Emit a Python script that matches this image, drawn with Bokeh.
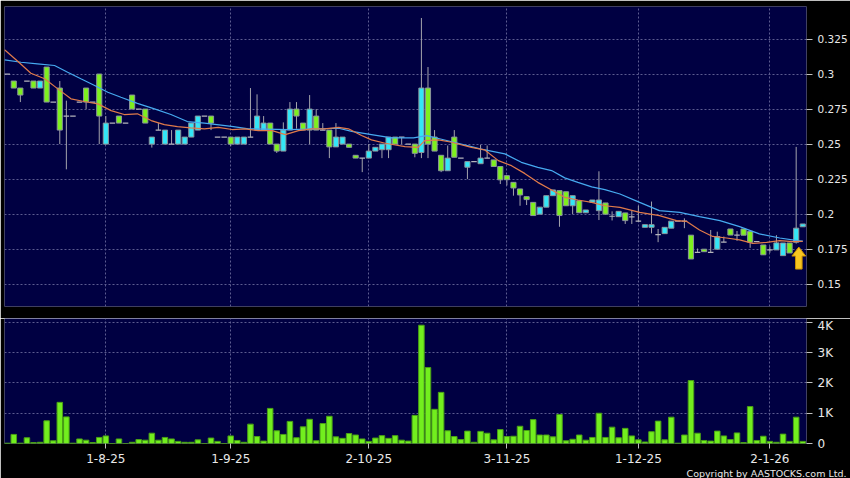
from bokeh.plotting import figure
from bokeh.layouts import column
from bokeh.models import Range1d, FixedTicker, Title
from bokeh.embed import file_html
from bokeh.resources import INLINE

# ---------------- data (trading-day index -1 .. 120) ----------------
day_idx = list(range(-1, 121))

opens = [
    0.300,
    0.295, 0.290, 0.295, 0.295, 0.290, 0.305, 0.280, 0.290, 0.270, 0.270,
    0.280, 0.290, 0.280, 0.300, 0.250, 0.265, 0.270, 0.265, 0.285, 0.275,
    0.275, 0.250, 0.260, 0.250, 0.250, 0.250, 0.250, 0.255, 0.260, 0.270,
    0.270, 0.255, 0.255, 0.255, 0.250, 0.250, 0.255, 0.260, 0.260, 0.265,
    0.250, 0.245, 0.260, 0.275, 0.265, 0.260, 0.270, 0.260, 0.260, 0.248,
    0.250, 0.250, 0.242, 0.240, 0.240, 0.245, 0.246, 0.246, 0.255, 0.255,
    0.250, 0.250, 0.244, 0.290, 0.255, 0.242, 0.231, 0.255, 0.240, 0.2335,
    0.2375, 0.236, 0.240, 0.2387, 0.234, 0.2275, 0.2227, 0.218, 0.2125, 0.2084,
    0.200, 0.205, 0.2132, 0.2168, 0.216, 0.206, 0.2096, 0.201, 0.2085, 0.2025,
    0.208, 0.1985, 0.1982, 0.2009, 0.198, 0.195, 0.1906, 0.1906, 0.1854, 0.1861,
    0.190, 0.195, 0.195, 0.185, 0.1727, 0.175, 0.1727, 0.175, 0.180, 0.1894,
    0.185, 0.1894, 0.1877, 0.1805, 0.178, 0.1745, 0.1745, 0.1704, 0.1794, 0.180,
    0.191,
]
highs = [
    0.300,
    0.295, 0.290, 0.295, 0.295, 0.295, 0.305, 0.280, 0.295, 0.281, 0.270,
    0.280, 0.290, 0.280, 0.300, 0.270, 0.265, 0.270, 0.265, 0.285, 0.275,
    0.275, 0.255, 0.265, 0.260, 0.260, 0.260, 0.255, 0.265, 0.270, 0.270,
    0.270, 0.255, 0.255, 0.255, 0.255, 0.255, 0.290, 0.2855, 0.270, 0.265,
    0.250, 0.2655, 0.280, 0.280, 0.265, 0.285, 0.275, 0.265, 0.260, 0.265,
    0.255, 0.250, 0.242, 0.240, 0.250, 0.2477, 0.250, 0.255, 0.255, 0.255,
    0.250, 0.250, 0.340, 0.305, 0.260, 0.242, 0.249, 0.260, 0.240, 0.2375,
    0.2375, 0.2495, 0.249, 0.2387, 0.234, 0.2275, 0.2227, 0.218, 0.2125, 0.2084,
    0.205, 0.2132, 0.2173, 0.2168, 0.216, 0.2132, 0.2096, 0.203, 0.2101, 0.2306,
    0.208, 0.202, 0.202, 0.2009, 0.2025, 0.206, 0.1925, 0.209, 0.1894, 0.1906,
    0.195, 0.195, 0.197, 0.185, 0.1755, 0.175, 0.1887, 0.1875, 0.184, 0.1894,
    0.188, 0.1894, 0.1877, 0.1805, 0.178, 0.177, 0.185, 0.1794, 0.1794, 0.248,
    0.193,
]
lows = [
    0.300,
    0.290, 0.280, 0.295, 0.290, 0.290, 0.280, 0.280, 0.250, 0.232, 0.270,
    0.280, 0.275, 0.280, 0.250, 0.250, 0.265, 0.265, 0.265, 0.275, 0.275,
    0.265, 0.2475, 0.260, 0.250, 0.250, 0.250, 0.250, 0.255, 0.260, 0.270,
    0.260, 0.255, 0.255, 0.2485, 0.250, 0.250, 0.255, 0.260, 0.260, 0.250,
    0.2437, 0.245, 0.260, 0.261, 0.260, 0.250, 0.260, 0.260, 0.240, 0.248,
    0.250, 0.2477, 0.240, 0.230, 0.240, 0.245, 0.240, 0.240, 0.250, 0.250,
    0.250, 0.2406, 0.240, 0.240, 0.245, 0.230, 0.231, 0.2406, 0.240, 0.225,
    0.2375, 0.236, 0.240, 0.234, 0.2215, 0.2205, 0.2132, 0.206, 0.2065, 0.199,
    0.200, 0.205, 0.2132, 0.191, 0.206, 0.200, 0.201, 0.201, 0.2085, 0.1958,
    0.200, 0.1955, 0.1982, 0.193, 0.193, 0.1945, 0.1906, 0.1863, 0.180, 0.1861,
    0.190, 0.195, 0.190, 0.168, 0.1727, 0.1732, 0.1727, 0.175, 0.180, 0.1851,
    0.181, 0.185, 0.176, 0.1805, 0.171, 0.1725, 0.1745, 0.1704, 0.1723, 0.179,
    0.191,
]
closes = [
    0.300,
    0.290, 0.285, 0.295, 0.290, 0.295, 0.280, 0.280, 0.260, 0.270, 0.270,
    0.280, 0.280, 0.280, 0.270, 0.265, 0.265, 0.265, 0.265, 0.275, 0.275,
    0.265, 0.255, 0.260, 0.260, 0.250, 0.260, 0.255, 0.265, 0.270, 0.270,
    0.265, 0.255, 0.255, 0.250, 0.255, 0.255, 0.255, 0.270, 0.265, 0.250,
    0.245, 0.260, 0.275, 0.270, 0.260, 0.275, 0.260, 0.260, 0.248, 0.255,
    0.255, 0.2477, 0.240, 0.240, 0.245, 0.2477, 0.250, 0.255, 0.250, 0.255,
    0.250, 0.2434, 0.290, 0.250, 0.245, 0.231, 0.240, 0.2406, 0.240, 0.2375,
    0.2375, 0.240, 0.240, 0.234, 0.2245, 0.2246, 0.2187, 0.2137, 0.2104, 0.199,
    0.205, 0.2132, 0.2173, 0.199, 0.206, 0.2132, 0.201, 0.203, 0.2101, 0.2101,
    0.200, 0.1985, 0.202, 0.1954, 0.198, 0.195, 0.1925, 0.1925, 0.1854, 0.1906,
    0.195, 0.195, 0.195, 0.168, 0.1727, 0.1732, 0.1727, 0.184, 0.180, 0.1851,
    0.185, 0.185, 0.180, 0.1805, 0.171, 0.1745, 0.1795, 0.1794, 0.1723, 0.190,
    0.193,
]
volumes = [
    10,
    300, 10, 190, 30, 40, 750, 90, 1360, 880, 10,
    150, 110, 30, 200, 250, 0, 150, 0, 40, 130,
    110, 340, 110, 200, 150, 70, 40, 40, 120, 0,
    180, 70, 0, 250, 100, 40, 640, 230, 80, 1160,
    420, 300, 730, 190, 550, 800, 90, 660, 900, 220,
    170, 330, 280, 150, 70, 180, 260, 170, 260, 110,
    80, 930, 3910, 2510, 1130, 1690, 420, 230, 130, 410,
    40, 400, 340, 120, 460, 230, 240, 570, 430, 790,
    280, 280, 220, 960, 90, 140, 280, 110, 200, 1000,
    200, 540, 190, 500, 250, 120, 50, 390, 740, 120,
    870, 10, 280, 2080, 340, 100, 80, 410, 250, 130,
    350, 30, 1220, 100, 240, 70, 40, 310, 70, 870,
    70,
]

# moving averages: (day index, value)
ma10_points = [
    (-1.4, 0.3173), (0.6, 0.3091), (2.6, 0.3006), (4.7, 0.2966), (6.7, 0.2894),
    (8.7, 0.2823), (10.7, 0.2804), (12.8, 0.2787), (14.8, 0.2739), (16.8, 0.2711),
    (18.8, 0.2716), (20.9, 0.2668), (22.9, 0.2639), (24.9, 0.2625), (26.9, 0.2616),
    (29.0, 0.2609), (31.1, 0.2620), (33.2, 0.2604), (35.2, 0.2609), (37.2, 0.2596),
    (39.3, 0.2596), (41.3, 0.2568), (43.3, 0.2596), (45.3, 0.2609), (47.3, 0.2609),
    (49.4, 0.2620), (50.9, 0.2609), (52.9, 0.2561), (54.4, 0.2530), (56.5, 0.2506),
    (59.5, 0.2482), (61.5, 0.2477), (62.5, 0.2525), (64.6, 0.2530), (66.6, 0.2513),
    (69.6, 0.2477), (71.6, 0.2459), (73.7, 0.2382), (75.7, 0.2346), (77.7, 0.2291),
    (79.7, 0.2227), (81.8, 0.2173), (83.8, 0.2120), (85.8, 0.2101), (87.9, 0.2084),
    (89.9, 0.2060), (92.2, 0.2049), (95.2, 0.2013), (98.2, 0.1990), (100.8, 0.1954),
    (102.3, 0.1949), (104.3, 0.1887), (106.3, 0.1841), (108.4, 0.1830), (110.4, 0.1816),
    (112.4, 0.1791), (114.5, 0.1799), (116.5, 0.1811), (118.5, 0.1804), (120.0, 0.1806),
]
ma20_points = [
    (-1.4, 0.3101), (1.1, 0.3084), (3.6, 0.3073), (6.2, 0.3061), (8.2, 0.3013),
    (10.2, 0.2966), (12.3, 0.2918), (14.3, 0.2870), (16.3, 0.2834), (18.8, 0.2791),
    (21.4, 0.2751), (23.9, 0.2711), (26.4, 0.2661), (29.0, 0.2650), (33.4, 0.2625),
    (35.7, 0.2609), (41.8, 0.2604), (49.4, 0.2613), (51.4, 0.2591), (54.4, 0.2568),
    (57.5, 0.2544), (60.8, 0.2544), (62.8, 0.2561), (64.6, 0.2540), (69.6, 0.2482),
    (70.9, 0.2466), (74.7, 0.2430), (77.2, 0.2370), (79.7, 0.2334), (81.8, 0.2311),
    (83.8, 0.2259), (85.8, 0.2227), (87.9, 0.2195), (89.9, 0.2175), (92.2, 0.2144),
    (95.2, 0.2084), (98.2, 0.2025), (101.3, 0.2013), (104.3, 0.1982), (107.4, 0.1954),
    (110.4, 0.1911), (113.4, 0.1859), (116.5, 0.1830), (119.2, 0.1811), (120.0, 0.1808),
]

date_ticks = [14, 33, 54, 75, 95, 115]
date_labels = ["1-8-25", "1-9-25", "2-10-25", "3-11-25", "1-12-25", "2-1-26"]
price_ticks = [0.15, 0.175, 0.2, 0.225, 0.25, 0.275, 0.3, 0.325]
price_labels = ["0.15", "0.175", "0.2", "0.225", "0.25", "0.275", "0.3", "0.325"]
vol_ticks = [0, 1000, 2000, 3000, 4000]
vol_labels = ["0", "1K", "2K", "3K", "4K"]

# ---------------- styles ----------------
BG = "#000042"
GRID = "#5c5c90"
UP = "#33e6f7"
DOWN = "#7ef01e"
BODY_LINE = "#8a949a"
WICK = "#a4a4ac"
TXT = "#e8e8e8"
FONT = "DejaVu Sans"

x_rng = Range1d(-1.41, 120.57)

p1 = figure(width=850, height=318, x_range=x_rng, y_range=Range1d(0.1341, 0.3482),
            output_backend="svg", toolbar_location=None,
            x_axis_location=None, y_axis_location="right",
            min_border_left=4, min_border_right=43, min_border_top=6, min_border_bottom=12,
            background_fill_color=BG, border_fill_color="black", outline_line_color=None)

p2 = figure(width=850, height=160, x_range=x_rng, y_range=Range1d(0, 4132),
            output_backend="svg", toolbar_location=None,
            y_axis_location="right",
            min_border_left=4, min_border_right=43, min_border_top=0, min_border_bottom=0,
            background_fill_color=BG, border_fill_color="black", outline_line_color=None)

for p in (p1, p2):
    p.xgrid.ticker = FixedTicker(ticks=date_ticks)
    for g in (p.xgrid, p.ygrid):
        g.grid_line_color = GRID
        g.grid_line_dash = "2 2"
        g.grid_line_width = 1
    ax = p.yaxis[0]
    ax.axis_line_color = None
    ax.major_tick_line_color = "#c0c0c0"
    ax.major_tick_out = 6
    ax.major_tick_in = 0
    ax.minor_tick_line_color = None
    ax.major_label_text_color = TXT
    ax.major_label_text_font = FONT
    ax.major_label_standoff = 5

p1.yaxis.ticker = FixedTicker(ticks=price_ticks)
p1.yaxis.major_label_overrides = dict(zip(price_ticks, price_labels))
p1.yaxis.major_label_text_font_size = "10.5px"

p2.yaxis.ticker = FixedTicker(ticks=vol_ticks)
p2.ygrid.ticker = FixedTicker(ticks=vol_ticks[1:])
p2.yaxis.major_label_overrides = dict(zip(vol_ticks, vol_labels))
p2.yaxis.major_label_text_font_size = "12px"

xa = p2.xaxis[0]
xa.ticker = FixedTicker(ticks=date_ticks)
xa.major_label_overrides = dict(zip(date_ticks, date_labels))
xa.axis_line_color = None
xa.major_tick_line_color = "#c0c0c0"
xa.major_tick_out = 5
xa.major_tick_in = 0
xa.minor_tick_line_color = None
xa.major_label_text_color = TXT
xa.major_label_text_font = FONT
xa.major_label_text_font_size = "12px"
xa.major_label_standoff = 5

# ---------------- candles ----------------
wx, wlo, whi = [], [], []
ux, ut, ub = [], [], []
dx, dt, db = [], [], []
fx, fy = [], []
for i, o, h, l, c in zip(day_idx, opens, highs, lows, closes):
    if h > l:
        wx.append(i); wlo.append(l); whi.append(h)
    if c > o:
        ux.append(i); ut.append(c); ub.append(o)
    elif c < o:
        dx.append(i); dt.append(o); db.append(c)
    else:
        fx.append(i); fy.append(c)

p1.segment(x0=wx, y0=wlo, x1=wx, y1=whi, line_color=WICK, line_width=1)
p1.vbar(x=ux, top=ut, bottom=ub, width=0.78, fill_color=UP, line_color=BODY_LINE, line_width=1)
p1.vbar(x=dx, top=dt, bottom=db, width=0.78, fill_color=DOWN, line_color=BODY_LINE, line_width=1)
p1.segment(x0=[x - 0.42 for x in fx], y0=fy, x1=[x + 0.42 for x in fx], y1=fy,
           line_color="#b4b4bc", line_width=1.2)

# moving averages
p1.line([a for a, _ in ma20_points], [b for _, b in ma20_points], line_color="#46aaf0", line_width=1.2)
p1.line([a for a, _ in ma10_points], [b for _, b in ma10_points], line_color="#e07a4a", line_width=1.2)

# yellow up-arrow under the last big candle
ax0 = day_idx[-2] + 0.4
tip = lows[-2] - 0.0025
hh, hw, sw, tl = 0.0064, 1.05, 0.5, 0.0157
p1.patch([ax0, ax0 + hw, ax0 + sw, ax0 + sw, ax0 - sw, ax0 - sw, ax0 - hw],
         [tip, tip - hh, tip - hh, tip - tl, tip - tl, tip - hh, tip - hh],
         fill_color="#f7c520", line_color="#c98f00", line_width=1)

# ---------------- volume ----------------
p2.vbar(x=day_idx, top=volumes, bottom=0, width=0.84, fill_color="#72ee1e", line_color="#4aa016", line_width=1)

cp = Title(text="Copyright by AASTOCKS.com Ltd.", align="right", text_color=TXT,
           text_font=FONT, text_font_size="9.5px", text_font_style="normal", offset=-40, standoff=0)
p2.add_layout(cp, "below")

layout = column(p1, p2, spacing=0)
html = file_html(layout, INLINE)
html = html.replace("<body>", '<body style="background-color:#000000;">', 1)
open("out.html", "w").write(html)
